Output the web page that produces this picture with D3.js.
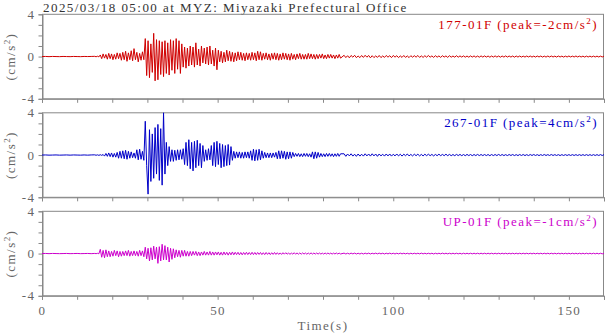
<!DOCTYPE html>
<html><head><meta charset="utf-8">
<script src="https://cdn.jsdelivr.net/npm/d3@7"></script>
<style>body{margin:0;background:#fff}svg{display:block}text{font-family:"Liberation Serif","Times New Roman",serif}</style>
</head><body><div id="chart"></div>
<script>
// ---- data ----
const title = "2025/03/18 05:00 at MYZ: Miyazaki Prefectural Office";
const channelNames = ["177-01F", "267-01F", "UP-01F"];
const channelPeaks = ["-2", "4", "-1"];
const channelColors = ["#d00000", "#0000c8", "#cc00cc"];
const xTickLabels = [0, 50, 100, 150];
const yTickLabels = [-4, 0, 4];
const headStart = 0, headStep = 1;      // seconds 0..14
const mainStart = 15, mainStep = 0.4;   // seconds 15..85
const tailStart = 86, tailStep = 0.5;   // seconds 86..160

const redHead = [0,0.01,-0.01,0.01,0,-0.01,0.01,0,-0.01,0.01,0,-0.01,0.01,0,0.01];
const redMain = [
0.02,-0.02,0.03,-0.03,0.15,-0.2,0.25,-0.15,0.2,-0.25,
0.3,-0.2,0.25,-0.3,0.2,-0.25,0.35,-0.2,0.3,-0.35,
0.4,-0.3,0.5,-0.45,0.35,-0.3,0.55,-0.4,0.75,-0.3,
0.4,-0.5,0.3,-0.35,0.45,-0.3,1.7,-1.8,1.5,-2.0,
1.2,-1.5,2.2,-2.3,1.6,-2.2,1.5,-1.7,1.4,-1.9,
1.5,-1.6,1.3,-1.75,1.6,-1.3,1.5,-1.6,1.7,-1.2,
1.5,-1.6,1.2,-1.0,0.9,-1.1,0.8,-0.9,1.0,-0.8,
0.9,-1.0,1.3,-0.8,0.7,-0.9,1.0,-0.6,0.8,-0.7,
0.9,-0.8,1.0,-0.7,0.6,-0.9,0.8,-1.25,0.6,-0.5,
0.5,-0.6,0.4,-0.5,0.6,-0.4,0.5,-0.45,0.4,-0.5,
0.35,-0.4,0.45,-0.3,0.4,-0.35,0.3,-0.4,0.35,-0.3,
0.3,-0.35,0.4,-0.3,0.35,-0.4,0.5,-0.3,0.45,-0.35,
0.3,-0.25,0.35,-0.3,0.25,-0.35,0.3,-0.25,0.35,-0.3,
0.3,-0.35,0.25,-0.3,0.35,-0.25,0.3,-0.3,0.25,-0.35,
0.3,-0.25,0.2,-0.3,0.25,-0.2,0.3,-0.25,0.2,-0.25,
0.2,-0.25,0.3,-0.2,0.25,-0.2,0.2,-0.25,0.2,-0.2,
0.2,-0.15,0.25,-0.2,0.15,-0.2,0.2,-0.15,0.2,-0.15,
0.15,-0.2,0.15,-0.15,0.2,-0.15];
const redTail = [
0.12,-0.1,0.08,-0.12,0.1,-0.06,0.12,-0.1,0.05,-0.1,
0.1,-0.08,0.12,-0.06,0.1,-0.12,0.08,-0.1,0.06,-0.08,
0.1,-0.1,0.06,-0.08,0.1,-0.06,0.08,-0.1,0.1,-0.06,
0.08,-0.1,0.06,-0.08,0.1,-0.08,0.06,-0.1,0.08,-0.06,
0.08,-0.06,0.1,-0.08,0.06,-0.08,0.08,-0.06,0.1,-0.06,
0.06,-0.08,0.08,-0.06,0.06,-0.08,0.08,-0.05,0.06,-0.08,
0.08,-0.06,0.05,-0.06,0.08,-0.06,0.06,-0.05,0.06,-0.06,
0.05,-0.06,0.06,-0.05,0.06,-0.06,0.05,-0.06,0.06,-0.05,
0.06,-0.05,0.05,-0.06,0.05,-0.05,0.06,-0.05,0.05,-0.06,
0.05,-0.05,0.06,-0.05,0.05,-0.05,0.05,-0.06,0.05,-0.05,
0.05,-0.05,0.04,-0.05,0.05,-0.04,0.05,-0.05,0.04,-0.05,
0.05,-0.04,0.05,-0.05,0.04,-0.05,0.05,-0.04,0.05,-0.04,
0.04,-0.05,0.05,-0.04,0.04,-0.05,0.04,-0.04,0.05,-0.04,
0.04,-0.04,0.05,-0.04,0.04,-0.04,0.04,-0.05,0.04,-0.04,
0.04,-0.04,0.04,-0.04,0.04,-0.04,0.04,-0.04,0.04];

const blueHead = [0,0.01,-0.01,0,0.01,-0.01,0,0.01,-0.01,0.01,0,-0.01,0.01,-0.01,0.01];
const blueMain = [
0.02,-0.02,0.02,-0.03,0.03,-0.03,0.05,-0.1,0.15,-0.12,
0.2,-0.15,0.2,-0.2,0.15,-0.2,0.25,-0.3,0.35,-0.3,
0.4,-0.35,0.45,-0.4,0.35,-0.3,0.3,-0.25,0.2,-0.3,
0.5,-0.45,0.55,-0.4,0.35,-0.5,3.2,-1.0,-3.7,2.4,
-2.5,2.0,-2.2,2.6,-1.8,2.9,-2.4,2.5,-2.85,4.0,
-1.8,1.2,-1.0,0.8,-0.6,0.5,-0.6,0.45,-0.5,0.5,
-0.45,0.5,-0.4,0.6,-0.9,1.2,-1.0,1.45,-1.3,1.2,
-1.5,1.3,-1.2,1.4,-1.0,1.1,-1.2,0.9,-0.6,0.5,
-0.5,0.6,-0.45,0.9,-1.0,1.2,-1.1,1.3,-0.9,1.1,
-1.2,1.0,-1.1,0.9,-1.0,1.0,-0.95,0.8,-0.5,0.35,
-0.3,0.3,-0.25,0.3,-0.3,0.25,-0.3,0.3,-0.25,0.3,
-0.3,0.4,-0.5,0.55,-0.55,0.5,-0.5,0.55,-0.45,0.4,
-0.3,0.25,-0.25,0.2,-0.25,0.2,-0.25,0.2,-0.2,0.25,
-0.35,0.4,-0.35,0.4,-0.3,0.35,-0.4,0.3,-0.35,0.3,
-0.3,0.25,-0.15,0.15,-0.12,0.15,-0.15,0.12,-0.15,0.15,
-0.12,0.15,-0.15,0.12,-0.2,0.3,-0.35,0.3,-0.3,0.25,
-0.2,0.15,-0.15,0.12,-0.15,0.15,-0.12,0.15,-0.12,0.12,
-0.15,0.12,-0.12,0.15,-0.12,0.12];
const blueTail = [
0.12,-0.12,0.1,-0.08,0.12,-0.1,0.08,-0.12,0.1,-0.1,
0.08,-0.1,0.12,-0.08,0.1,-0.1,0.12,-0.08,0.1,-0.12,
0.1,-0.08,0.08,-0.1,0.1,-0.08,0.1,-0.1,0.08,-0.08,
0.1,-0.08,0.08,-0.1,0.08,-0.06,0.1,-0.08,0.06,-0.08,
0.08,-0.06,0.08,-0.08,0.06,-0.08,0.08,-0.06,0.08,-0.06,
0.06,-0.08,0.06,-0.06,0.08,-0.06,0.06,-0.06,0.08,-0.06,
0.06,-0.06,0.05,-0.06,0.06,-0.05,0.06,-0.06,0.05,-0.06,
0.06,-0.05,0.05,-0.06,0.05,-0.05,0.06,-0.05,0.05,-0.05,
0.05,-0.05,0.05,-0.06,0.05,-0.05,0.05,-0.05,0.06,-0.05,
0.05,-0.05,0.04,-0.05,0.05,-0.04,0.05,-0.05,0.04,-0.05,
0.05,-0.04,0.05,-0.05,0.04,-0.05,0.05,-0.04,0.05,-0.04,
0.04,-0.05,0.04,-0.04,0.05,-0.04,0.04,-0.04,0.05,-0.04,
0.04,-0.04,0.04,-0.05,0.04,-0.04,0.04,-0.04,0.04,-0.04,
0.04,-0.04,0.04,-0.04,0.04,-0.04,0.04,-0.04,0.04,-0.04,
0.04,-0.04,0.04,-0.04,0.04,-0.04,0.04,-0.04,0.04];

const upHead = [0,0.01,-0.01,0.01,0,-0.01,0,0.01,-0.01,0,0.01,-0.01,0,0.01,-0.01];
const upMain = [
0.01,-0.01,0.02,-0.02,0.4,-0.35,0.3,-0.4,0.35,-0.3,
0.25,-0.3,0.2,-0.25,0.3,-0.2,0.25,-0.3,0.2,-0.25,
0.2,-0.2,0.25,-0.2,0.3,-0.25,0.2,-0.2,0.25,-0.2,
0.2,-0.25,0.3,-0.2,0.25,-0.3,0.6,-0.5,0.5,-0.7,
0.55,-0.6,0.7,-0.5,0.6,-0.93,0.65,-0.7,0.88,-0.6,
0.75,-0.6,0.6,-0.8,0.5,-0.55,0.45,-0.4,0.35,-0.3,
0.3,-0.35,0.3,-0.25,0.3,-0.25,0.2,-0.25,0.2,-0.2,
0.2,-0.15,0.2,-0.2,0.15,-0.2,0.15,-0.15,0.2,-0.15,
0.15,-0.15,0.2,-0.15,0.15,-0.15,0.15,-0.12,0.15,-0.15,
0.12,-0.15,0.15,-0.12,0.12,-0.15,0.12,-0.12,0.15,-0.12,
0.12,-0.1,0.12,-0.12,0.1,-0.12,0.1,-0.1,0.12,-0.1,
0.1,-0.1,0.12,-0.1,0.1,-0.1,0.1,-0.08,0.1,-0.1,
0.08,-0.1,0.1,-0.08,0.08,-0.1,0.08,-0.08,0.1,-0.08,
0.08,-0.08,0.06,-0.08,0.08,-0.06,0.08,-0.06,0.06,-0.08,
0.06,-0.06,0.08,-0.06,0.06,-0.06,0.06,-0.06,0.06,-0.05,
0.05,-0.06,0.05,-0.05,0.06,-0.05,0.05,-0.05,0.05,-0.05,
0.05,-0.05,0.04,-0.05,0.05,-0.04,0.05,-0.04,0.04,-0.05,
0.04,-0.04,0.05,-0.04,0.04,-0.04];
const upTail = [
0.04,-0.04,0.03,-0.04,0.04,-0.03,0.04,-0.04,0.03,-0.04,
0.03,-0.04,0.04,-0.03,0.04,-0.04,0.03,-0.03,0.04,-0.03,
0.04,-0.03,0.03,-0.04,0.03,-0.03,0.04,-0.03,0.03,-0.04,
0.03,-0.03,0.04,-0.03,0.03,-0.03,0.03,-0.04,0.03,-0.03,
0.03,-0.03,0.03,-0.03,0.04,-0.03,0.03,-0.03,0.03,-0.03,
0.03,-0.04,0.03,-0.03,0.03,-0.03,0.04,-0.03,0.03,-0.03,
0.03,-0.03,0.03,-0.03,0.03,-0.03,0.03,-0.04,0.03,-0.03,
0.03,-0.03,0.03,-0.03,0.03,-0.03,0.03,-0.03,0.03,-0.03,
0.03,-0.03,0.03,-0.03,0.03,-0.03,0.03,-0.03,0.03,-0.03,
0.03,-0.03,0.03,-0.03,0.03,-0.03,0.03,-0.03,0.03,-0.03,
0.03,-0.03,0.03,-0.03,0.03,-0.03,0.03,-0.03,0.03,-0.03,
0.03,-0.03,0.03,-0.03,0.03,-0.03,0.03,-0.03,0.03,-0.03,
0.03,-0.03,0.03,-0.03,0.03,-0.03,0.03,-0.03,0.03,-0.03,
0.03,-0.03,0.03,-0.03,0.03,-0.03,0.03,-0.03,0.03,-0.03,
0.03,-0.03,0.03,-0.03,0.03,-0.03,0.03,-0.03,0.03];

// ---- build ----
function series(head, main, tail){
  const pts = [];
  head.forEach((v,i)=>pts.push([headStart + i*headStep, v]));
  main.forEach((v,i)=>pts.push([mainStart + i*mainStep, v]));
  tail.forEach((v,i)=>pts.push([tailStart + i*tailStep, v]));
  return pts;
}
const allSeries = [series(redHead,redMain,redTail), series(blueHead,blueMain,blueTail), series(upHead,upMain,upTail)];

const W = 605, H = 334;
const left = 42, right = 604;
const panelTops = [14.3, 112.8, 211.3];
const panelH = 84.5;
const axisColor = "#888";
const labelColor = "#666";
const LS = "1.45px";

const svg = d3.select("#chart").append("svg").attr("width", W).attr("height", H);
const x = d3.scaleLinear().domain([0,160]).range([left,right]);

svg.append("text").attr("x", 43).attr("y", 11.5).attr("font-size", 13).attr("fill", "#333")
  .attr("letter-spacing", LS).text(title);

allSeries.forEach((data, k) => {
  const top = panelTops[k];
  const y = d3.scaleLinear().domain([-4,4]).range([top+panelH, top]);
  const g = svg.append("g");
  // frame
  g.append("rect").attr("x", left+0.5).attr("y", top).attr("width", right-left-1).attr("height", panelH)
    .attr("fill","none").attr("stroke",axisColor).attr("stroke-width",1);
  // y axis
  const ya = d3.axisLeft(y).tickValues(d3.range(-4,5,1)).tickSize(4)
    .tickFormat(d => yTickLabels.includes(d) ? d : "");
  const yg = g.append("g").attr("transform",`translate(${left+0.5},0)`).call(ya);
  yg.select(".domain").attr("stroke",axisColor);
  yg.selectAll(".tick line").attr("stroke",axisColor);
  yg.selectAll(".tick text").attr("fill",labelColor).attr("font-size",13)
    .attr("font-family",'"Liberation Serif",serif').attr("letter-spacing",LS).attr("x",-7);
  // x axis
  const xa = d3.axisBottom(x).tickValues(d3.range(0,161,10)).tickSize(4)
    .tickFormat(d => (k===2 && xTickLabels.includes(d)) ? d : "");
  const xg = g.append("g").attr("transform",`translate(0,${top+panelH})`).call(xa);
  xg.select(".domain").attr("stroke",axisColor);
  xg.selectAll(".tick line").attr("stroke",axisColor);
  xg.selectAll(".tick text").attr("fill",labelColor).attr("font-size",13)
    .attr("font-family",'"Liberation Serif",serif').attr("letter-spacing",LS).attr("dy","0.95em");
  // y label
  const yl = g.append("text").attr("transform",`translate(15,${y(0)}) rotate(-90)`)
    .attr("text-anchor","middle").attr("fill",labelColor).attr("font-size",13).attr("letter-spacing",LS);
  yl.append("tspan").text("(cm/s");
  yl.append("tspan").attr("dy",-5).attr("font-size",9).text("2");
  yl.append("tspan").attr("dy",5).text(")");
  // waveform
  const line = d3.line().x(d=>x(d[0])).y(d=>y(d[1]));
  g.append("path").datum(data).attr("d",line).attr("fill","none")
    .attr("stroke",channelColors[k]).attr("stroke-width",1);
  // channel label
  const cl = g.append("text").attr("x",598).attr("y",top+14.5).attr("text-anchor","end")
    .attr("fill",channelColors[k]).attr("font-size",13).attr("letter-spacing",LS);
  cl.append("tspan").text(`${channelNames[k]} (peak=${channelPeaks[k]}cm/s`);
  cl.append("tspan").attr("dy",-5).attr("font-size",9).text("2");
  cl.append("tspan").attr("dy",5).text(")");
});

svg.append("text").attr("x",(left+right)/2).attr("y",330).attr("text-anchor","middle")
  .attr("fill",labelColor).attr("font-size",13).attr("letter-spacing",LS).text("Time(s)");
</script></body></html>
